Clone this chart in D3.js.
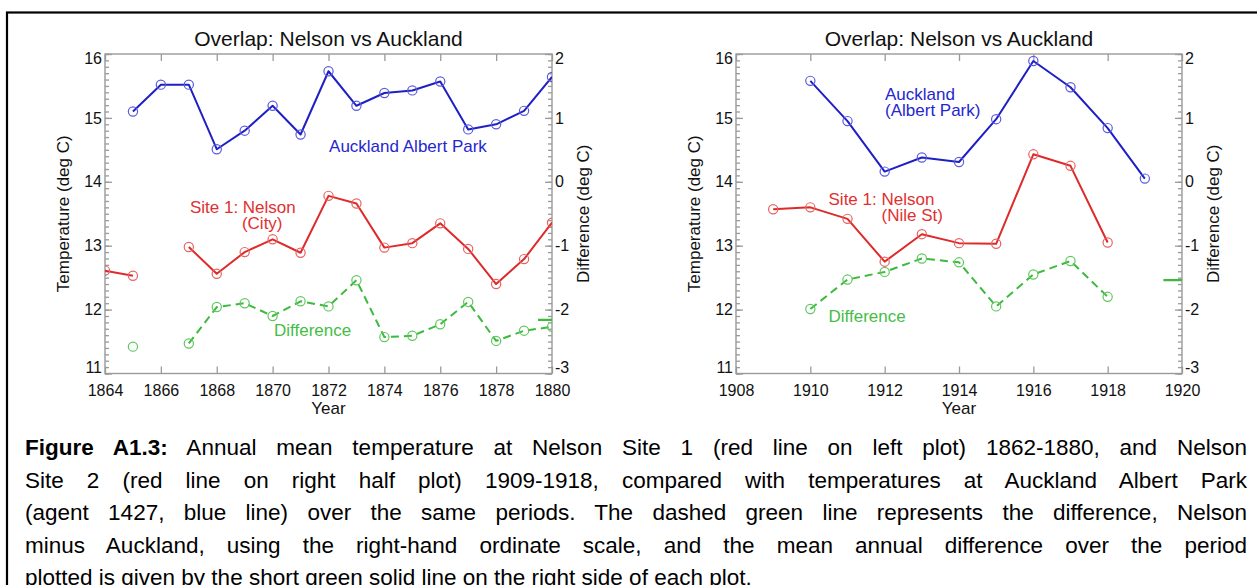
<!DOCTYPE html>
<html>
<head>
<meta charset="utf-8">
<script src="https://cdn.jsdelivr.net/npm/d3@7"></script>
<style>
  body { margin: 0; background: #fff; }
  svg { display: block; }
  text { font-family: "Liberation Sans", Arial, Helvetica, sans-serif; }
</style>
</head>
<body>
<svg id="fig" width="1257" height="585"></svg>
<script>
// ---- Left panel: Nelson (City) vs Auckland, 1864-1880 ----
const leftYears     = [1864, 1865, 1866, 1867, 1868, 1869, 1870, 1871, 1872, 1873, 1874, 1875, 1876, 1877, 1878, 1879, 1880];
const leftAuckland  = [null, 15.10, 15.52, 15.52, 14.51, 14.80, 15.19, 14.74, 15.73, 15.19, 15.39, 15.43, 15.57, 14.82, 14.90, 15.11, 15.64];
const leftNelson    = [12.61, 12.53, null, 12.98, 12.56, 12.90, 13.10, 12.89, 13.78, 13.66, 12.97, 13.04, 13.35, 12.95, 12.40, 12.79, 13.36];
const leftDiff      = [null, -2.58, null, -2.53, -1.96, -1.90, -2.10, -1.87, -1.95, -1.54, -2.43, -2.41, -2.23, -1.88, -2.49, -2.33, -2.27];
const leftMeanDiff  = -2.16;
const leftXTicks    = [1864, 1866, 1868, 1870, 1872, 1874, 1876, 1878, 1880];

// ---- Right panel: Nelson (Nile St) vs Auckland, 1909-1919 ----
const rightYears    = [1909, 1910, 1911, 1912, 1913, 1914, 1915, 1916, 1917, 1918, 1919];
const rightAuckland = [null, 15.58, 14.95, 14.16, 14.38, 14.31, 14.98, 15.89, 15.48, 14.84, 14.05];
const rightNelson   = [13.57, 13.60, 13.42, 12.75, 13.18, 13.04, 13.03, 14.43, 14.25, 13.05, null];
const rightDiff     = [null, -1.99, -1.53, -1.41, -1.20, -1.26, -1.95, -1.45, -1.24, -1.80, null];
const rightMeanDiff = -1.54;
const rightXTicks   = [1908, 1910, 1912, 1914, 1916, 1918, 1920];

// ---- Shared axis ticks ----
const tempTicks = [11, 12, 13, 14, 15, 16];
const diffTicks = [-3, -2, -1, 0, 1, 2];

const titleText = "Overlap: Nelson vs Auckland";

const captionLines = [
  [{ t: "Figure A1.3:", bold: true }, { t: " Annual mean temperature at Nelson Site 1 (red line on left plot) 1862-1880, and Nelson" }],
  [{ t: "Site 2 (red line on right half plot) 1909-1918, compared with temperatures at Auckland Albert Park" }],
  [{ t: "(agent 1427, blue line) over the same periods. The dashed green line represents the difference, Nelson" }],
  [{ t: "minus Auckland, using the right-hand ordinate scale, and the mean annual difference over the period" }],
  [{ t: "plotted is given by the short green solid line on the right side of each plot." }]
];

// ---- Styling ----
const COL = {
  blue:  { line: "#1f1fc6", marker: "#5b5bdf", text: "#2626cf" },
  red:   { line: "#df2a2a", marker: "#e96262", text: "#e23030" },
  green: { line: "#3dba3d", marker: "#5fc85f", text: "#45bd45" },
  axis: "#9a9a9a"
};
const FONT_TICK = 16, FONT_LABEL = 17, FONT_TITLE = 21, FONT_CAPTION = 22.5;

const svg = d3.select("#fig");
svg.append("rect").attr("width", 1257).attr("height", 585).attr("fill", "#fff");

// outer figure frame
svg.append("rect")
  .attr("x", 7).attr("y", 12.5).attr("width", 1300).attr("height", 700)
  .attr("fill", "none").attr("stroke", "#000").attr("stroke-width", 2.2);

const TOP = 54, BOTTOM = 373.5;
const LABEL_GAP = 16;   // line gap for two-line series labels

const panels = [
  {
    id: "L", years: leftYears, auck: leftAuckland, nel: leftNelson, diff: leftDiff,
    mean: leftMeanDiff, xDomain: [1864, 1880], xTicks: leftXTicks, x0: 105, x1: 552,
    labels: [
      { lines: ["Auckland Albert Park"], at: [1872.02, 14.46], dx: [0], c: "blue" },
      { lines: ["Site 1: Nelson", "(City)"], at: [1867.04, 13.51], dx: [0, 52], c: "red" },
      { lines: ["Difference"], at: [1870.05, 11.59], dx: [0], c: "green" }
    ]
  },
  {
    id: "R", years: rightYears, auck: rightAuckland, nel: rightNelson, diff: rightDiff,
    mean: rightMeanDiff, xDomain: [1908, 1920], xTicks: rightXTicks, x0: 736, x1: 1182,
    labels: [
      { lines: ["Auckland", "(Albert Park)"], at: [1912.01, 15.28], dx: [0, 0], c: "blue" },
      { lines: ["Site 1: Nelson", "(Nile St)"], at: [1910.49, 13.64], dx: [0, 53], c: "red" },
      { lines: ["Difference"], at: [1910.49, 11.80], dx: [0], c: "green" }
    ]
  }
];

panels.forEach(p => {
  const x = d3.scaleLinear().domain(p.xDomain).range([p.x0, p.x1]);
  const yT = d3.scaleLinear().domain([11, 16]).range([BOTTOM, TOP]);
  const yD = d3.scaleLinear().domain([-3, 2]).range([BOTTOM, TOP]);
  const g = svg.append("g");
  const cx = (p.x0 + p.x1) / 2;

  // title
  g.append("text").attr("x", cx).attr("y", 45.5)
    .attr("text-anchor", "middle").attr("font-size", FONT_TITLE).attr("fill", "#111")
    .text(titleText);

  // clip region = plot box
  svg.append("defs").append("clipPath").attr("id", "clip" + p.id)
    .append("rect").attr("x", p.x0).attr("y", TOP).attr("width", p.x1 - p.x0).attr("height", BOTTOM - TOP);

  // axes
  const styleAxis = sel => {
    sel.select(".domain").remove();
    sel.selectAll(".tick line").attr("stroke", COL.axis).attr("stroke-width", 1.3);
    sel.selectAll(".tick text").attr("fill", "#111").attr("font-size", FONT_TICK)
      .attr("font-family", "Liberation Sans, Arial, sans-serif");
  };
  const plain = d => String(d);

  const minorT = d3.range(110, 161).map(v => v / 10);
  const minorD = d3.range(-30, 21).map(v => v / 10);

  g.append("g").attr("transform", `translate(0,${BOTTOM})`)
    .call(d3.axisBottom(x).tickValues(p.xTicks).tickFormat(plain).tickSizeInner(-7).tickSizeOuter(0).tickPadding(11))
    .call(styleAxis);
  g.append("g").attr("transform", `translate(0,${TOP})`)
    .call(d3.axisTop(x).tickValues(p.xTicks).tickFormat("").tickSizeInner(-7).tickSizeOuter(0))
    .call(styleAxis);

  const leftAx = g.append("g").attr("transform", `translate(${p.x0},0)`)
    .call(d3.axisLeft(yT).tickValues(tempTicks).tickFormat(plain).tickSizeInner(-7).tickSizeOuter(0).tickPadding(3))
    .call(styleAxis);
  g.append("g").attr("transform", `translate(${p.x0},0)`)
    .call(d3.axisLeft(yT).tickValues(minorT).tickFormat("").tickSizeInner(-4).tickSizeOuter(0))
    .call(styleAxis);
  const rightAx = g.append("g").attr("transform", `translate(${p.x1},0)`)
    .call(d3.axisRight(yD).tickValues(diffTicks).tickFormat(plain).tickSizeInner(-7).tickSizeOuter(0).tickPadding(3))
    .call(styleAxis);
  g.append("g").attr("transform", `translate(${p.x1},0)`)
    .call(d3.axisRight(yD).tickValues(minorD).tickFormat("").tickSizeInner(-4).tickSizeOuter(0))
    .call(styleAxis);

  // keep the end labels inside the box height
  [leftAx, rightAx].forEach(ax => {
    ax.selectAll(".tick text").attr("transform", (d, i, n) => {
      if (i === n.length - 1) return "translate(0,4.5)";
      if (i === 0) return "translate(0,-6.5)";
      return null;
    });
  });

  // plot box
  g.append("rect").attr("x", p.x0).attr("y", TOP)
    .attr("width", p.x1 - p.x0).attr("height", BOTTOM - TOP)
    .attr("fill", "none").attr("stroke", COL.axis).attr("stroke-width", 1.4);

  // axis titles
  g.append("text").attr("transform", `translate(${p.x0 - 42},${(TOP + BOTTOM) / 2}) rotate(-90)`)
    .attr("text-anchor", "middle").attr("dominant-baseline", "central")
    .attr("font-size", FONT_LABEL).attr("fill", "#111").text("Temperature (deg C)");
  g.append("text").attr("transform", `translate(${p.x1 + 31},${(TOP + BOTTOM) / 2}) rotate(-90)`)
    .attr("text-anchor", "middle").attr("dominant-baseline", "central")
    .attr("font-size", FONT_LABEL).attr("fill", "#111").text("Difference (deg C)");
  g.append("text").attr("x", cx).attr("y", 414)
    .attr("text-anchor", "middle").attr("font-size", FONT_LABEL).attr("fill", "#111").text("Year");

  // data series
  const plot = g.append("g").attr("clip-path", `url(#clip${p.id})`);
  const series = [
    { vals: p.auck, y: yT, c: COL.blue, dash: null },
    { vals: p.nel, y: yT, c: COL.red, dash: null },
    { vals: p.diff, y: yD, c: COL.green, dash: "8,5" }
  ];
  series.forEach(s => {
    const pts = p.years.map((yr, i) => ({ yr, v: s.vals[i] }));
    const line = d3.line().defined(d => d.v != null).x(d => x(d.yr)).y(d => s.y(d.v));
    plot.append("path").datum(pts)
      .attr("d", line).attr("fill", "none")
      .attr("stroke", s.c.line).attr("stroke-width", 2)
      .attr("stroke-linejoin", "round")
      .attr("stroke-dasharray", s.dash);
    plot.selectAll(null).data(pts.filter(d => d.v != null)).enter()
      .append("circle")
      .attr("cx", d => x(d.yr)).attr("cy", d => s.y(d.v)).attr("r", 4.6)
      .attr("fill", "none").attr("stroke", s.c.marker).attr("stroke-width", 1.2);
  });

  // mean difference marker: half-year long, ending at the right axis
  const xMax = p.xDomain[1];
  plot.append("line")
    .attr("x1", x(xMax - 0.5)).attr("x2", x(xMax))
    .attr("y1", yD(p.mean)).attr("y2", yD(p.mean))
    .attr("stroke", COL.green.line).attr("stroke-width", 2.2);

  // series labels
  p.labels.forEach(l => {
    l.lines.forEach((txt, k) => {
      g.append("text")
        .attr("x", x(l.at[0]) + l.dx[k])
        .attr("y", yT(l.at[1]) + k * LABEL_GAP)
        .attr("font-size", FONT_LABEL).attr("fill", COL[l.c].text).text(txt);
    });
  });
});

// ---- Caption (justified) ----
const CAP_X = 25, CAP_RIGHT = 1247, CAP_Y0 = 455, CAP_LH = 32.5;
captionLines.forEach((parts, i) => {
  const t = svg.append("text").attr("x", CAP_X).attr("y", CAP_Y0 + i * CAP_LH)
    .attr("font-size", FONT_CAPTION).attr("fill", "#000")
    .attr("xml:space", "preserve");
  parts.forEach(pt => {
    t.append("tspan").attr("font-weight", pt.bold ? "bold" : null).text(pt.t);
  });
  if (i < captionLines.length - 1) {
    const natural = t.node().getComputedTextLength();
    const spaces = parts.map(pt => pt.t).join("").split(" ").length - 1;
    const extra = (CAP_RIGHT - CAP_X - natural) / spaces;
    t.style("word-spacing", extra + "px");
  }
});
</script>
</body>
</html>
